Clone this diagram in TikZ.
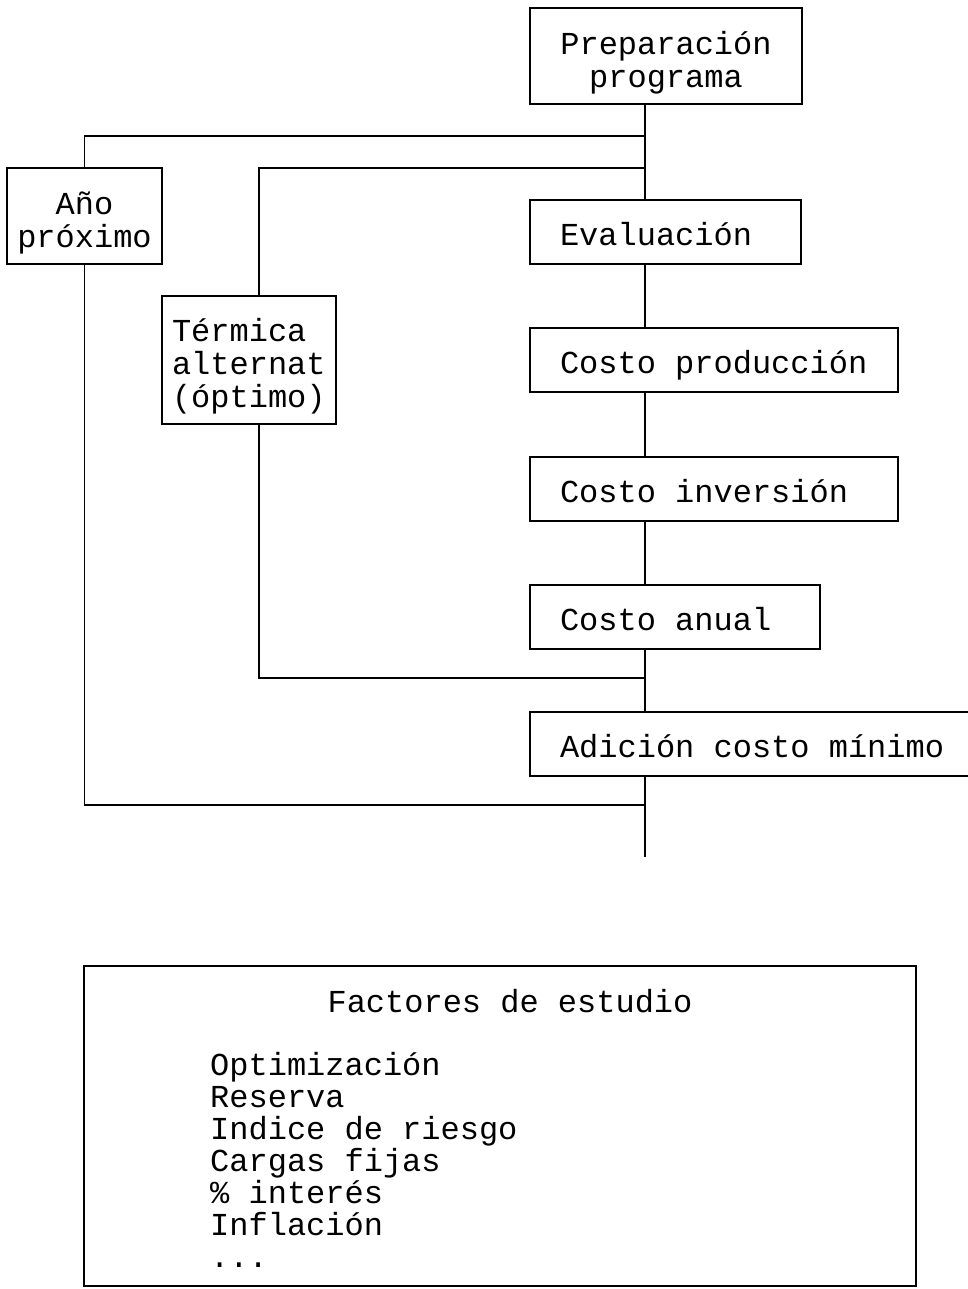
\documentclass[tikz,border=0pt]{standalone}
\usepackage{fontspec}
\newfontfamily\monofam[WordSpace={1,0,0}]{Liberation Mono}
\newcommand\fullsp{\spaceskip=0pt\xspaceskip=0pt\relax}
\begin{document}
\begin{tikzpicture}[x=1pt,y=-1pt,
  lw/.style={line width=1.3pt},
  box/.style={draw, lw, rectangle, inner ysep=0pt, font=\monofam\fontsize{32}{33}\selectfont},
  cbox/.style={box, align=center, inner xsep=0pt},
  lbox/.style={box, align=left, inner xsep=30pt, text width=#1, text height=26pt, text depth=0pt},
  txt/.style={font=\monofam\fontsize{32}{33}\selectfont, inner sep=0pt, anchor=base west}
]
\useasboundingbox (0,0) rectangle (968,1289);

\node[cbox, minimum width=272, minimum height=96] (prep) at (666,56) {\rule{0pt}{36pt}Preparación\\programa};
\node[cbox, minimum width=155, minimum height=96] (ano) at (84.5,216) {\rule{0pt}{36pt}Año\\próximo};
\node[lbox=211, minimum height=64] (eval) at (665.5,232) {Evaluación};
\node[box, align=left, inner xsep=0pt, text width=154, minimum width=174, minimum height=128] (term) at (249,360) {\rule{0pt}{35pt}Térmica\\alternat\\(óptimo)};
\node[lbox=308, minimum height=64] (prod) at (714,360) {\fullsp\mbox{Costo producción}};
\node[lbox=308, minimum height=64] (inv) at (714,489) {\fullsp\mbox{Costo inversión}};
\node[lbox=230, minimum height=64] (anual) at (675,617) {\fullsp\mbox{Costo anual}};
\node[lbox=386, minimum height=64] (adic) at (753,744) {\fullsp\mbox{Adición costo mínimo}};

\coordinate (sp) at (645,0);
\coordinate (tx) at (259,0);
\coordinate (j1) at (645,136);
\coordinate (j2) at (645,168);
\coordinate (j3) at (645,678);
\coordinate (j4) at (645,805);
\coordinate (end) at (645,857);

\draw[lw] (prep.south -| sp) -- (eval.north -| sp);
\draw[lw] (eval.south -| sp) -- (prod.north -| sp);
\draw[lw] (prod.south -| sp) -- (inv.north -| sp);
\draw[lw] (inv.south -| sp) -- (anual.north -| sp);
\draw[lw] (anual.south -| sp) -- (adic.north -| sp);
\draw[lw] (adic.south -| sp) -- (end);

\draw[lw] (j1) -| (ano.north);
\draw[lw] (j2) -- (j2 -| tx) -- (term.north -| tx);
\draw[lw] (term.south -| tx) |- (j3);
\draw[lw] (ano.south) |- (j4);

\node[draw, lw, minimum width=832, minimum height=320, inner sep=0pt] (fact) at (500,1126) {};
\node[txt, anchor=base] (title) at (510,1012) {Factores de estudio};
\node[txt] (l1) at (210,1075) {Optimización};
\node[txt] (l2) at (210,1107) {Reserva};
\node[txt] (l3) at (210,1139) {Indice de riesgo};
\node[txt] (l4) at (210,1171) {Cargas fijas};
\node[txt] (l5) at (210,1203) {\% interés};
\node[txt] (l6) at (210,1235) {Inflación};
\node[txt] (l7) at (210,1267) {...};
\end{tikzpicture}
\end{document}
